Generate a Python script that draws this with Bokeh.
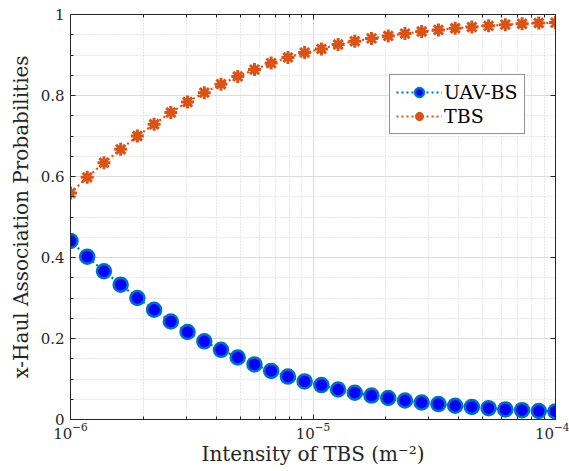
from bokeh.plotting import figure
from bokeh.models import (FixedTicker, LogAxis, LinearAxis, Legend, LegendItem,
                          ColumnDataSource, LogTickFormatter)
from bokeh.embed import file_html
from bokeh.resources import INLINE

# ---- data ----
intensity = [1.000e-6, 1.172e-6, 1.374e-6, 1.610e-6, 1.887e-6, 2.212e-6, 2.593e-6,
             3.039e-6, 3.562e-6, 4.175e-6, 4.894e-6, 5.736e-6, 6.723e-6, 7.881e-6,
             9.237e-6, 1.083e-5, 1.269e-5, 1.487e-5, 1.743e-5, 2.043e-5, 2.395e-5,
             2.807e-5, 3.290e-5, 3.857e-5, 4.520e-5, 5.298e-5, 6.210e-5, 7.279e-5,
             8.532e-5, 1.000e-4]
uav_bs = [0.441, 0.402, 0.366, 0.333, 0.300, 0.271, 0.242, 0.216, 0.193, 0.172,
          0.153, 0.136, 0.120, 0.106, 0.094, 0.085, 0.074, 0.066, 0.059, 0.053,
          0.047, 0.042, 0.038, 0.034, 0.031, 0.028, 0.025, 0.023, 0.021, 0.020]
tbs = [0.559, 0.598, 0.634, 0.667, 0.700, 0.729, 0.758, 0.784, 0.807, 0.828,
       0.847, 0.864, 0.880, 0.894, 0.906, 0.915, 0.926, 0.934, 0.941, 0.947,
       0.953, 0.958, 0.962, 0.966, 0.969, 0.972, 0.975, 0.977, 0.979, 0.980]
x_ticks = [1e-6, 1e-5, 1e-4]
y_ticks = [0, 0.2, 0.4, 0.6, 0.8, 1]
y_tick_labels = ["0", "0.2", "0.4", "0.6", "0.8", "1"]
y_minor = [0.05, 0.1, 0.15, 0.25, 0.3, 0.35, 0.45, 0.5, 0.55, 0.65, 0.7, 0.75,
           0.85, 0.9, 0.95]
x_minor = [m * d for d in (1e-6, 1e-5) for m in range(2, 10)]

FONT = "DejaVu Serif"
AX = "#262626"

src = ColumnDataSource(dict(x=intensity, uav=uav_bs, tbs=tbs))

p = figure(width=569, height=471, x_axis_type="log", x_range=(1e-6, 1e-4),
           y_range=(0, 1), output_backend="svg", toolbar_location=None,
           min_border_left=70, min_border_right=14, min_border_top=14,
           min_border_bottom=52)
p.background_fill_color = "white"
p.border_fill_color = "white"
p.outline_line_color = AX
p.outline_line_width = 1

xt = FixedTicker(ticks=x_ticks, minor_ticks=x_minor)
yt = FixedTicker(ticks=y_ticks, minor_ticks=y_minor)

p.xaxis.ticker = xt
p.yaxis.ticker = yt
p.xaxis.formatter = LogTickFormatter()
p.yaxis.major_label_overrides = {t: l for t, l in zip(y_ticks, y_tick_labels)}

for ax in (p.xaxis[0], p.yaxis[0]):
    ax.axis_line_color = AX
    ax.major_tick_line_color = AX
    ax.minor_tick_line_color = AX
    ax.major_tick_in = 5
    ax.major_tick_out = 0
    ax.minor_tick_in = 3
    ax.minor_tick_out = 0
    ax.major_label_text_font = FONT
    ax.major_label_text_font_size = "15px"
    ax.major_label_text_color = AX
    ax.axis_label_text_font = FONT
    ax.axis_label_text_font_size = "20px"
    ax.axis_label_text_font_style = "normal"
    ax.axis_label_text_color = AX

p.xaxis.axis_label = "Intensity of TBS (m⁻²)"
p.yaxis.axis_label = "x-Haul Association Probabilities"
p.xaxis.major_label_standoff = 3
p.yaxis.major_label_standoff = 6
p.xaxis.axis_label_standoff = 0
p.yaxis.axis_label_standoff = 5

# box axes (top/right) with inward ticks, no labels
top = LogAxis(ticker=xt, axis_line_color=AX,
              major_tick_line_color=AX, minor_tick_line_color=AX,
              major_tick_in=5, major_tick_out=0, minor_tick_in=3, minor_tick_out=0,
              major_label_text_alpha=0, major_label_standoff=0)
right = LinearAxis(ticker=yt, axis_line_color=AX,
                   major_tick_line_color=AX, minor_tick_line_color=AX,
                   major_tick_in=5, major_tick_out=0, minor_tick_in=0, minor_tick_out=0,
                   major_label_text_alpha=0, major_label_standoff=0)
top.major_label_overrides = {t: " " for t in x_ticks}
right.major_label_overrides = {t: " " for t in y_ticks}
p.add_layout(top, "above")
p.add_layout(right, "right")

for g in (p.xgrid[0], p.ygrid[0]):
    g.grid_line_color = "#dcdcdc"
    g.grid_line_width = 1
    g.minor_grid_line_color = "#cfcfcf"
    g.minor_grid_line_dash = "1 2"
    g.minor_grid_line_width = 1

blue_l = p.line("x", "uav", source=src, line_color="#0072BD", line_width=2.2,
                line_dash="2 3")
blue_m = p.scatter("x", "uav", source=src, marker="circle", size=14,
                   fill_color="#0000FF", line_color="#0072BD", line_width=2.5)
red_l = p.line("x", "tbs", source=src, line_color="#D95319", line_width=2.2,
               line_dash="2 3")
red_m = p.scatter("x", "tbs", source=src, marker="asterisk", size=13,
                  line_color="#D95319", line_width=3)

legend = Legend(items=[LegendItem(label="UAV-BS", renderers=[blue_l, blue_m]),
                       LegendItem(label="TBS", renderers=[red_l, red_m])],
                location=(319, 285))
legend.label_text_font = FONT
legend.label_text_font_size = "19px"
legend.label_text_color = "black"
legend.glyph_width = 46
legend.glyph_height = 22
legend.label_standoff = 2
legend.spacing = 2
legend.padding = 6
legend.margin = 0
legend.border_line_color = AX
legend.border_line_width = 1
legend.background_fill_color = "white"
legend.background_fill_alpha = 1
p.add_layout(legend, "center")

open("out.html", "w").write(file_html(p, INLINE))
